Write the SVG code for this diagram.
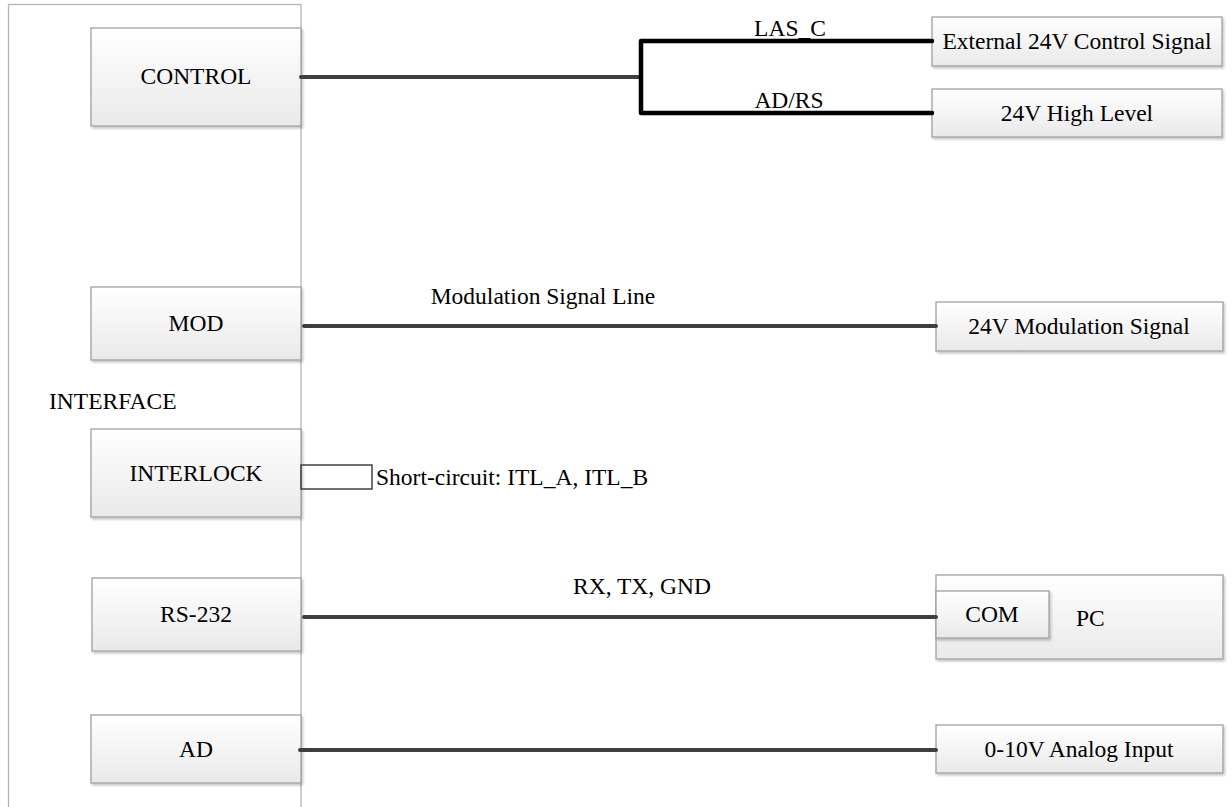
<svg xmlns="http://www.w3.org/2000/svg" width="1232" height="807" viewBox="0 0 1232 807">
<defs>
<linearGradient id="g" x1="0" y1="0" x2="0" y2="1">
<stop offset="0" stop-color="#ffffff"/>
<stop offset="1" stop-color="#e9e9e9"/>
</linearGradient>
<filter id="sh" x="-5%" y="-5%" width="110%" height="120%">
<feDropShadow dx="1.5" dy="2" stdDeviation="1" flood-color="#000" flood-opacity="0.22"/>
</filter>
</defs>
<style>
text{font-family:"Liberation Serif","Times New Roman",serif;font-size:23.5px;fill:#000}
.box{fill:url(#g);stroke:#a0a0a0;stroke-width:1.3;filter:url(#sh)}
.c{text-anchor:middle}
.gl{stroke:#3f3f3f;stroke-width:4;fill:none;stroke-linecap:round}
.bl{stroke:#000;stroke-width:4.5;fill:none;stroke-linecap:round;stroke-linejoin:round}
</style>
<rect width="1232" height="807" fill="#fff"/>
<g id="interface">
<rect x="8.5" y="4.5" width="292.5" height="820" fill="#fff" stroke="#b4b4b4" stroke-width="1.3"/>
<text x="49" y="409">INTERFACE</text>
</g>
<g id="control"><rect class="box" x="91" y="28" width="210" height="98"/><text class="c" x="196" y="84">CONTROL</text></g>
<g id="mod"><rect class="box" x="91" y="287" width="210" height="73"/><text class="c" x="196" y="331">MOD</text></g>
<g id="interlock"><rect class="box" x="91" y="429" width="210" height="88"/><text class="c" x="196" y="481">INTERLOCK</text></g>
<g id="rs232"><rect class="box" x="92" y="578" width="209" height="73"/><text class="c" x="196" y="622">RS-232</text></g>
<g id="ad"><rect class="box" x="91" y="715" width="210" height="68"/><text class="c" x="196" y="757">AD</text></g>
<g id="ext"><rect class="box" x="932" y="17" width="290" height="49"/><text class="c" x="1077" y="49">External 24V Control Signal</text></g>
<g id="high"><rect class="box" x="932" y="89" width="290" height="48"/><text class="c" x="1077" y="121">24V High Level</text></g>
<g id="modsig"><rect class="box" x="936" y="302" width="287" height="49"/><text class="c" x="1079" y="334">24V Modulation Signal</text></g>
<g id="pc"><rect class="box" x="936" y="575" width="287" height="84"/><text x="1076" y="626">PC</text>
<g id="com"><rect class="box" x="936" y="591" width="113" height="47"/><text class="c" x="992" y="622">COM</text></g></g>
<g id="analog"><rect class="box" x="936" y="725" width="287" height="48"/><text class="c" x="1079" y="757">0-10V Analog Input</text></g>
<g id="connectors">
<line class="gl" x1="301" y1="77" x2="641" y2="77"/>
<path class="bl" d="M932 41 H641 V113 H932"/>
<text class="c" x="790" y="36">LAS_C</text>
<text class="c" x="789" y="108">AD/RS</text>
<line class="gl" x1="304" y1="326" x2="936" y2="326"/>
<text class="c" x="543" y="304">Modulation Signal Line</text>
<rect x="301" y="465" width="71" height="24" fill="none" stroke="#404040" stroke-width="1.5"/>
<text x="376" y="485">Short-circuit: ITL_A, ITL_B</text>
<line class="gl" x1="304" y1="617" x2="936" y2="617"/>
<text class="c" x="642" y="594">RX, TX, GND</text>
<line class="gl" x1="300" y1="750" x2="936" y2="750"/>
</g>
</svg>
